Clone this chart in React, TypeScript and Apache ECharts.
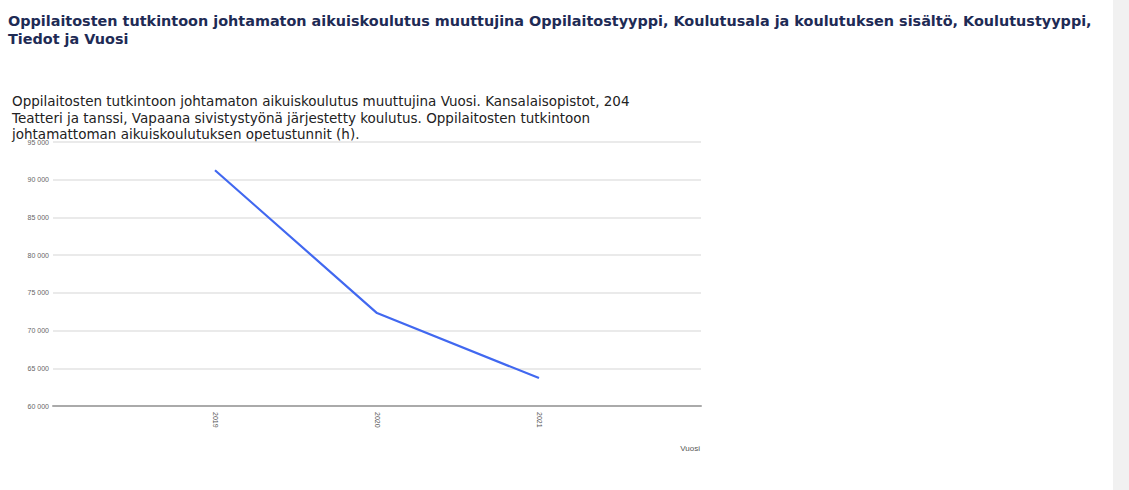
import React, { useEffect, useRef } from "react";
import * as echarts from "echarts";

const years = [2019, 2020, 2021];
const hours = [91260, 72320, 63700];
const yTicks = { min: 60000, max: 95000, interval: 5000 };

const titleLines = [
  "Oppilaitosten tutkintoon johtamaton aikuiskoulutus muuttujina Oppilaitostyyppi, Koulutusala ja koulutuksen sisältö, Koulutustyyppi,",
  "Tiedot ja Vuosi",
];
const subtitleLines = [
  "Oppilaitosten tutkintoon johtamaton aikuiskoulutus muuttujina Vuosi. Kansalaisopistot, 204",
  "Teatteri ja tanssi, Vapaana sivistystyönä järjestetty koulutus. Oppilaitosten tutkintoon",
  "johtamattoman aikuiskoulutuksen opetustunnit (h).",
];
const xAxisName = "Vuosi";

export default function App() {
  const ref = useRef<HTMLDivElement>(null);
  useEffect(() => {
    document.body.style.margin = "0";
    const chart = echarts.init(ref.current!, null, { renderer: "svg" });
    chart.setOption({
      animation: false,
      backgroundColor: "#ffffff",
      grid: { left: 53, right: 428, top: 142, bottom: 84 },
      xAxis: {
        type: "value",
        min: 2018,
        max: 2022,
        interval: 1,
        splitLine: { show: false },
        axisTick: { show: false },
        axisLine: { show: true, lineStyle: { color: "#aaaaaa", width: 2 } },
        axisLabel: {
          rotate: -90,
          fontSize: 7,
          color: "#555",
          margin: 6,
          formatter: (v: number) => (years.includes(v) ? String(v) : ""),
        },
      },
      yAxis: {
        type: "value",
        min: yTicks.min,
        max: yTicks.max,
        interval: yTicks.interval,
        axisLine: { show: false },
        axisTick: { show: false },
        splitLine: { lineStyle: { color: "#e3e3e3", width: 1.5 } },
        axisLabel: {
          fontSize: 7,
          color: "#666",
          margin: 4,
          formatter: (v: number) => String(v).replace(/\B(?=(\d{3})+(?!\d))/g, " "),
        },
      },
      series: [
        {
          type: "line",
          data: years.map((y, i) => [y, hours[i]]),
          showSymbol: false,
          lineStyle: { color: "#4168f0", width: 2.2 },
          itemStyle: { color: "#4168f0" },
        },
      ],
      graphic: [
        {
          type: "text",
          left: 8,
          top: 12,
          style: {
            text: titleLines.join("\n"),
            font: "bold 14.4px 'DejaVu Sans'",
            fill: "#1e2b55",
            lineHeight: 18,
          },
        },
        {
          type: "text",
          left: 12,
          top: 93,
          style: {
            text: subtitleLines.join("\n"),
            font: "13.5px 'DejaVu Sans'",
            fill: "#222",
            lineHeight: 16.5,
          },
        },
        {
          type: "text",
          right: 429,
          top: 444,
          style: { text: xAxisName, font: "8px 'Liberation Sans'", fill: "#555" },
        },
        {
          type: "rect",
          right: 0,
          top: 0,
          shape: { width: 16, height: 490 },
          style: { fill: "#f1f1f1" },
        },
      ],
    });
    return () => chart.dispose();
  }, []);
  return <div ref={ref} style={{ width: 1129, height: 490 }} />;
}
